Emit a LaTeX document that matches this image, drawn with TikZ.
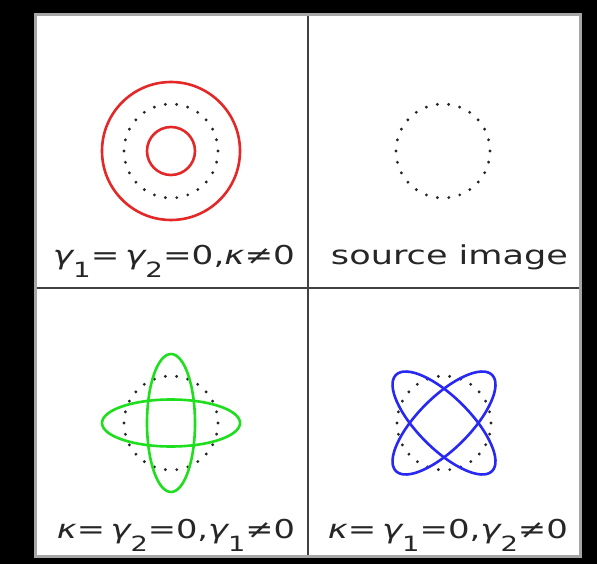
\documentclass[tikz,border=0pt]{standalone}
\usepackage{fontspec}
\usepackage{graphicx}
\setmainfont{DejaVu Sans}
\definecolor{ringred}{RGB}{228,40,40}
\definecolor{shearGreen}{RGB}{30,222,30}
\definecolor{shearBlue}{RGB}{40,40,245}
\newcommand{\Sub}[1]{\raisebox{-13pt}{\fontsize{21pt}{21pt}\selectfont #1}}
\newcommand{\PanelText}[2]{\resizebox{#1pt}{\height}{#2}}

\begin{document}
\begin{tikzpicture}[x=1pt,y=-1pt]
        \tikzset{SourceStyle/.style={black!85, line width=3.2pt, line cap=round,
            dash pattern=on 0pt off 11.36pt}}
        \tikzset{ImageStyle/.style={line width=2.6pt}}
        \tikzset{LabelStyle/.style={anchor=base, inner sep=0pt, text=black!85,
            font=\fontsize{26pt}{28pt}\selectfont}}
        \fill[black] (0,0) rectangle (597,564);
        \fill[white] (35,15) rectangle (580,556);
        \draw[black!75, line width=2pt] (308,15) -- (308,556);
        \draw[black!75, line width=2pt] (35,288) -- (580,288);
        \draw[gray!70, line width=3pt] (35,15) rectangle (580,556);
        \coordinate (cTL) at (171,151);
        \coordinate (cTR) at (443,151);
        \coordinate (cBL) at (171,423);
        \coordinate (cBR) at (444,423);
        % convergence only
        \draw[ImageStyle, ringred] (cTL) circle (69pt);
        \draw[ImageStyle, ringred] (cTL) circle (24pt);
        \draw[SourceStyle] (cTL) circle (47pt);
        % source
        \draw[SourceStyle] (cTR) circle (47pt);
        % gamma 1
        \draw[SourceStyle] (cBL) circle (47pt);
        \draw[ImageStyle, shearGreen] (cBL) ellipse [x radius=69pt, y radius=23.5pt];
        \draw[ImageStyle, shearGreen] (cBL) ellipse [x radius=24pt, y radius=69pt];
        % gamma 2
        \draw[SourceStyle] (cBR) circle (47pt);
        \draw[ImageStyle, shearBlue, rotate around={45:(cBR)}] (cBR) ellipse [x radius=68pt, y radius=26pt];
        \draw[ImageStyle, shearBlue, rotate around={-45:(cBR)}] (cBR) ellipse [x radius=68pt, y radius=26pt];
        \node[LabelStyle] (kappa) at (174,265)
            {\PanelText{242}{{\itshape γ}\Sub{1}=\,{\itshape γ}\Sub{2}=0,{\itshape κ}≠0}};
        \node[LabelStyle] (source) at (449.5,265) {\PanelText{237}{source image}};
        \node[LabelStyle] (gammaA) at (176,538)
            {\PanelText{238}{{\itshape κ}=\,{\itshape γ}\Sub{2}=0,{\itshape γ}\Sub{1}≠0}};
        \node[LabelStyle] (gammaB) at (448,538)
            {\PanelText{240}{{\itshape κ}=\,{\itshape γ}\Sub{1}=0,{\itshape γ}\Sub{2}≠0}};
\end{tikzpicture}
\end{document}
